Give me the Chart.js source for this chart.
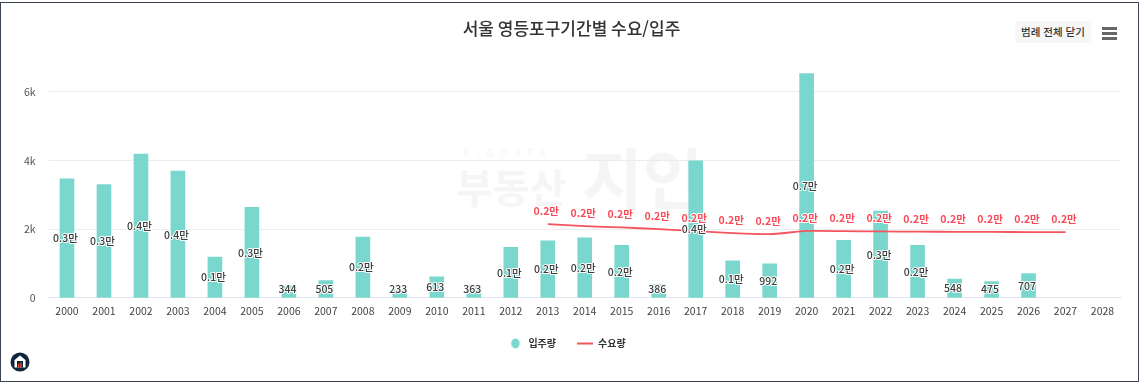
<!DOCTYPE html>
<html lang="ko"><head><meta charset="utf-8">
<script src="https://cdn.jsdelivr.net/npm/chart.js@4"></script>
<style>
html,body{margin:0;padding:0;background:#fff;overflow:hidden}
body{width:1143px;height:387px;position:relative;font-family:"Noto Sans CJK KR","Noto Sans",sans-serif}
#frame{position:absolute;left:0;top:2px;width:1137px;height:378px;border:1.5px solid #3a4258;box-sizing:content-box}
#wrap{position:absolute;left:0;top:0;width:1143px;height:387px}
canvas{position:absolute;left:0;top:0}
.wm{position:absolute;color:#f5f5f5;font-weight:700;white-space:nowrap;line-height:1}
#btn{position:absolute;left:1015px;top:21px;width:76px;height:22px;background:#f7f7f7;color:#333;font-size:10.5px;line-height:22px;text-align:center;white-space:nowrap;font-weight:500}
#menu{position:absolute;left:1102px;top:27px;width:15px}
#menu i{display:block;height:3px;background:#666;margin-bottom:1.8px}
#logo{position:absolute;left:10px;top:352px}
</style></head><body>
<div class="wm" style="left:463px;top:148px;font-size:10px;letter-spacing:7px;font-weight:400">BIGDATA</div>
<div class="wm" style="left:456px;top:166px;font-size:40px">부동산</div>
<div class="wm" style="left:582px;top:142px;font-size:66px">지인</div>
<div id="wrap"><canvas id="c" width="1143" height="387"></canvas></div>
<div id="frame"></div>
<div id="btn">범례 전체 닫기</div>
<div id="menu"><i></i><i></i><i></i></div>
<svg id="logo" width="20" height="20" viewBox="0 0 20 20"><circle cx="10" cy="10" r="9.5" fill="#10233f"/><path d="M10 3.5 L15.5 8 V15.5 H4.5 V8 Z" fill="#fff"/><rect x="7" y="9" width="6" height="6.5" fill="#10233f"/><rect x="8" y="12" width="1.4" height="3.5" fill="#e8552d"/><rect x="10.2" y="10.5" width="1.4" height="5" fill="#e8552d"/></svg>
<script>
const years = ['2000','2001','2002','2003','2004','2005','2006','2007','2008','2009','2010','2011','2012','2013','2014','2015','2016','2017','2018','2019','2020','2021','2022','2023','2024','2025','2026','2027','2028'];
const moveIn = [3470,3304,4187,3692,1189,2635,344,505,1771,233,613,363,1470,1665,1752,1528,386,3994,1083,992,6536,1674,2527,1528,548,475,707,null,null];
const demand = [null,null,null,null,null,null,null,null,null,null,null,null,null,2148,2090,2052,2003,1945,1886,1857,1950,1945,1935,1930,1925,1922,1918,1915,null];
const yTicks = {0:'0',2000:'2k',4000:'4k',6000:'6k'};

const fmt = v => v >= 1000 ? (v/10000).toFixed(1)+'만' : String(v);
const FONT = '"Noto Sans CJK KR","Noto Sans",sans-serif';

const dot = document.createElement('canvas');
dot.width = 10; dot.height = 11;
(g => { g.fillStyle='#7ad7cd'; g.beginPath(); g.ellipse(5,5.5,4.2,5,0,0,Math.PI*2); g.fill(); })(dot.getContext('2d'));

const valueLabels = {
  id:'valueLabels',
  afterLayout(chart){ chart.legend.left -= 5; chart.legend.right -= 5; },
  afterDatasetsDraw(chart){
    const {ctx, scales:{x,y}} = chart;
    ctx.save();
    ctx.textAlign='center'; ctx.textBaseline='middle'; ctx.lineJoin='round';
    ctx.font='500 10.5px '+FONT;
    moveIn.forEach((v,i)=>{
      if(v==null) return;
      const cy=Math.min((y.getPixelForValue(v)+y.getPixelForValue(0))/2, y.getPixelForValue(0)-8.5);
      const cx=x.getPixelForValue(i)-1.5;
      ctx.lineWidth=2; ctx.strokeStyle='#fff'; ctx.fillStyle='#3c3c3c';
      ctx.strokeText(fmt(v),cx,cy); ctx.fillText(fmt(v),cx,cy);
    });
    ctx.font='700 10.5px '+FONT;
    demand.forEach((v,i)=>{
      if(v==null) return;
      const cx=x.getPixelForValue(i)-1.5, cy=y.getPixelForValue(v)-13;
      ctx.lineWidth=2; ctx.strokeStyle='#fff'; ctx.fillStyle='#fb4a57';
      ctx.strokeText(fmt(v),cx,cy); ctx.fillText(fmt(v),cx,cy);
    });
    ctx.restore();
  }
};

new Chart(document.getElementById('c'),{
  data:{labels:years,datasets:[
    {type:'bar',label:'입주량',data:moveIn,backgroundColor:'#7ad7cd',borderWidth:0,barThickness:14,order:2,pointStyle:dot},
    {type:'line',label:'수요량',data:demand,borderColor:'#f4545e',backgroundColor:'#f4545e',borderWidth:1.8,pointRadius:0,tension:0.2,spanGaps:false,order:1,pointStyle:'line'}
  ]},
  options:{
    responsive:false,animation:false,
    layout:{padding:{left:22,right:22,top:8,bottom:28.5}},
    plugins:{
      title:{display:true,text:'서울 영등포구기간별 수요/입주',color:'#333',font:{family:FONT,size:17,weight:'500'},padding:{top:10,bottom:32.9}},
      legend:{position:'bottom',labels:{usePointStyle:true,pointStyleWidth:16,boxHeight:7,padding:21,color:'#333',font:{family:FONT,size:10,weight:'700'},sort:(a,b)=>a.datasetIndex-b.datasetIndex}},
      tooltip:{enabled:false}
    },
    scales:{
      x:{offset:true,grid:{display:false},border:{color:'#e2e6f0'},
         afterFit(s){s.height+=1;},
         ticks:{color:'#444',font:{family:FONT,size:10.5},maxRotation:0,autoSkip:false,padding:-1}},
      y:{min:0,max:6600,
         afterFit(s){s.width=26.5;},
         afterBuildTicks(s){s.ticks=Object.keys(yTicks).map(k=>({value:+k}));},
         grid:{color:'#ececec',drawTicks:false},border:{display:false},
         ticks:{color:'#555',font:{family:FONT,size:10.5},padding:13,callback:v=>yTicks[v]}}
    }
  },
  plugins:[valueLabels]
});
</script>
</body></html>
